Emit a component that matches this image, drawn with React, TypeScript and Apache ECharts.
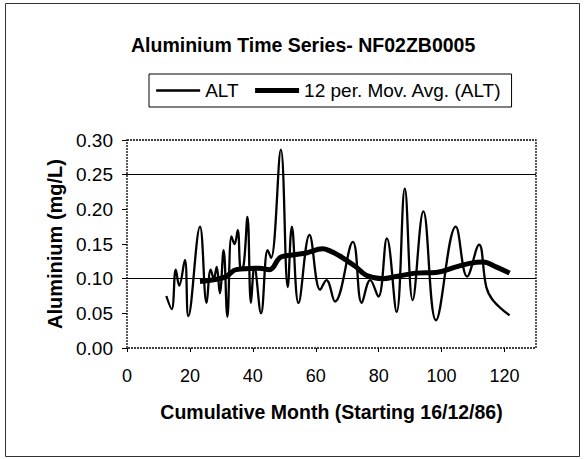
import React, { useEffect, useRef } from "react";
import * as echarts from "echarts";

// ALT readings (cumulative month, mg/L)
const altMonths = [12.5, 14.2, 15.5, 16.6, 18.4, 19.5, 23.2, 25.3, 26.6, 27.6, 28.5, 29.5, 30.7, 31.9, 33.2, 34.2, 35.2, 36.2, 37.1, 38.3, 39.4, 40.5, 42.6, 44.7, 45.8, 48.9, 51.1, 52.4, 54.5, 58.0, 61.4, 63.4, 66.1, 71.8, 74.6, 77.3, 79.9, 82.6, 85.7, 88.3, 90.8, 94.2, 98.2, 104.5, 108.1, 111.9, 114.2, 116.3, 121.6];
const altValues = [0.075, 0.056, 0.113, 0.09, 0.127, 0.046, 0.175, 0.065, 0.113, 0.1, 0.117, 0.079, 0.141, 0.045, 0.161, 0.15, 0.17, 0.113, 0.12, 0.189, 0.065, 0.117, 0.05, 0.141, 0.13, 0.286, 0.088, 0.175, 0.065, 0.163, 0.084, 0.098, 0.067, 0.153, 0.065, 0.098, 0.074, 0.158, 0.052, 0.23, 0.069, 0.197, 0.04, 0.175, 0.103, 0.149, 0.088, 0.069, 0.047];

// 12 period moving average
const maMonths = [23.2, 27.0, 31.5, 34.7, 42.0, 45.3, 48.5, 50.6, 56.9, 62.2, 64.5, 67.5, 69.6, 72.8, 76.0, 81.3, 85.5, 91.8, 98.2, 104.6, 108.9, 113.1, 117.3, 121.6];
const maValues = [0.096, 0.098, 0.103, 0.113, 0.115, 0.113, 0.13, 0.133, 0.137, 0.143, 0.14, 0.133, 0.127, 0.117, 0.105, 0.1, 0.103, 0.108, 0.109, 0.117, 0.122, 0.124, 0.117, 0.108];

const gridLineValues = [0.25, 0.1];

const seriesNames = ["ALT", "12 per. Mov. Avg. (ALT)"];
const titleText = "Aluminium Time Series- NF02ZB0005";
const xTitle = "Cumulative Month (Starting 16/12/86)";
const yTitle = "Aluminium (mg/L)";

export default function App() {
  const ref = useRef<HTMLDivElement>(null);
  useEffect(() => {
    const chart = echarts.init(ref.current!, null, { renderer: "svg" });
    const font = "'Liberation Sans', Arial, sans-serif";
    const gl = 127, gt = 140, gw = 409, gh = 208;
    chart.setOption({
      animation: false,
      backgroundColor: "#ffffff",
      title: {
        text: titleText,
        left: 126,
        top: 30,
        textStyle: { fontFamily: font, fontWeight: "bold", fontSize: 19.5, color: "#000" },
      },
      legend: {
        left: 149,
        top: 74,
        orient: "horizontal",
        borderColor: "#000",
        borderWidth: 1,
        padding: [7, 10, 7, 6],
        itemWidth: 44,
        itemHeight: 10,
        itemGap: 14,
        itemStyle: { opacity: 0 },
        lineStyle: { width: "inherit" },
        textStyle: { fontFamily: font, fontSize: 19, color: "#000" },
        data: seriesNames,
      },
      grid: { left: gl, top: gt, width: gw, height: gh },
      xAxis: {
        type: "value",
        min: 0,
        max: 130,
        interval: 20,
        name: xTitle,
        nameLocation: "middle",
        nameGap: 54,
        nameTextStyle: { fontFamily: font, fontWeight: "bold", fontSize: 19.5, color: "#000" },
        axisLine: { show: false },
        axisTick: { show: true, length: 4, lineStyle: { color: "#000" } },
        axisLabel: { showMaxLabel: false, margin: 19, fontFamily: font, fontSize: 18, color: "#000" },
        splitLine: { show: false },
      },
      yAxis: {
        type: "value",
        min: 0,
        max: 0.3,
        interval: 0.05,
        name: yTitle,
        nameLocation: "middle",
        nameGap: 62,
        nameTextStyle: { fontFamily: font, fontWeight: "bold", fontSize: 20, color: "#000" },
        axisLine: { show: false },
        axisTick: { show: true, length: 5, lineStyle: { color: "#000" } },
        axisLabel: {
          margin: 14,
          fontFamily: font,
          fontSize: 19,
          color: "#000",
          formatter: (v: number) => v.toFixed(2),
        },
        splitLine: { show: false },
      },
      graphic: [
        {
          type: "rect",
          shape: { x: 5.5, y: 3.5, width: 574, height: 453 },
          style: { fill: "none", stroke: "#333", lineWidth: 1 },
          silent: true,
        },
        {
          type: "rect",
          shape: { x: gl, y: gt, width: gw, height: gh },
          style: { fill: "none", stroke: "#000", lineWidth: 1.3, lineDash: [2, 1] },
          silent: true,
          z: 10,
        },
      ],
      series: [
        {
          name: seriesNames[0],
          type: "line",
          data: altMonths.map((m, i) => [m, altValues[i]]),
          smooth: 0.4,
          symbol: "none",
          lineStyle: { color: "#000", width: 2.3 },
          itemStyle: { color: "#000" },
          markLine: {
            silent: true,
            symbol: ["none", "none"],
            label: { show: false },
            lineStyle: { color: "#000", type: "solid", width: 1 },
            data: gridLineValues.map((v) => ({ yAxis: v })),
          },
          z: 3,
        },
        {
          name: seriesNames[1],
          type: "line",
          data: maMonths.map((m, i) => [m, maValues[i]]),
          smooth: 0.4,
          symbol: "none",
          lineStyle: { color: "#000", width: 5 },
          itemStyle: { color: "#000" },
          z: 4,
        },
      ],
    });
    return () => chart.dispose();
  }, []);
  return (
    <div
      ref={ref}
      style={{ position: "fixed", left: 0, top: 0, width: 585, height: 459, background: "#fff" }}
    />
  );
}
